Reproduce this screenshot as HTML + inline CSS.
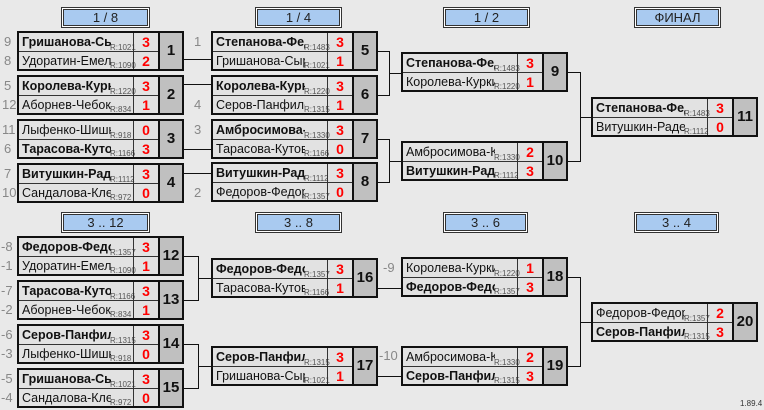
<!DOCTYPE html>
<html><head><meta charset="utf-8">
<style>
body{margin:0;width:764px;height:410px;background:#e9e9e9;position:relative;overflow:hidden;font-family:"Liberation Sans",sans-serif;}
.m{position:absolute;width:163px;height:36px;border:2px solid #111;background:#e2e2e2}
.r{position:absolute;left:0;width:139px;height:18px;top:0}
.r+.r{top:18px;border-top:1px solid #333;height:17px}
.n{position:absolute;left:3px;top:1px;width:89px;overflow:hidden;white-space:nowrap;font-size:12.5px;color:#111;line-height:16px}
.b{font-weight:bold}
.r i{position:absolute;left:91px;bottom:-1px;font-size:8px;color:#555;font-style:normal;line-height:9px}
.r s{position:absolute;left:114px;top:0;width:24px;height:100%;border-left:1px solid #333;color:#f00;text-decoration:none;text-align:center;font-size:14px;font-weight:bold;line-height:18px}
.k{position:absolute;left:139px;top:0;width:22px;height:36px;background:#c0c0c0;border-left:2px solid #111;text-align:center;font-weight:bold;font-size:15px;line-height:36px;color:#111}
.h{position:absolute;height:15px;border:1px solid #333;outline:1px solid #fff;box-shadow:0 0 0 2px #333;background:#a9caf0;font-size:13px;text-align:center;line-height:15px;color:#222}
.l{position:absolute;background:#111}
.sd{position:absolute;font-size:13px;color:#888;line-height:14px}
</style></head><body>
<div class="h" style="left:63px;top:9px;width:83px">1 / 8</div>
<div class="h" style="left:257px;top:9px;width:81px">1 / 4</div>
<div class="h" style="left:445px;top:9px;width:81px">1 / 2</div>
<div class="h" style="left:636px;top:9px;width:81px">ФИНАЛ</div>
<div class="h" style="left:63px;top:214px;width:83px">3 .. 12</div>
<div class="h" style="left:257px;top:214px;width:81px">3 .. 8</div>
<div class="h" style="left:445px;top:214px;width:79px">3 .. 6</div>
<div class="h" style="left:636px;top:214px;width:79px">3 .. 4</div>

<div class="sd" style="left:4px;top:35px">9</div><div class="sd" style="left:4px;top:54px">8</div>
<div class="sd" style="left:4px;top:79px">5</div><div class="sd" style="left:2px;top:98px">12</div>
<div class="sd" style="left:2px;top:123px">11</div><div class="sd" style="left:4px;top:142px">6</div>
<div class="sd" style="left:4px;top:167px">7</div><div class="sd" style="left:2px;top:186px">10</div>
<div class="sd" style="left:1px;top:240px">-8</div><div class="sd" style="left:1px;top:259px">-1</div>
<div class="sd" style="left:1px;top:284px">-7</div><div class="sd" style="left:1px;top:303px">-2</div>
<div class="sd" style="left:1px;top:328px">-6</div><div class="sd" style="left:1px;top:347px">-3</div>
<div class="sd" style="left:1px;top:372px">-5</div><div class="sd" style="left:1px;top:391px">-4</div>
<div class="sd" style="left:194px;top:35px">1</div><div class="sd" style="left:194px;top:98px">4</div>
<div class="sd" style="left:194px;top:123px">3</div><div class="sd" style="left:194px;top:186px">2</div>
<div class="sd" style="left:383px;top:261px">-9</div><div class="sd" style="left:379px;top:349px">-10</div>

<div class="l" style="left:184px;top:59px;width:27px;height:1px"></div>
<div class="l" style="left:184px;top:84px;width:27px;height:1px"></div>
<div class="l" style="left:184px;top:149px;width:27px;height:1px"></div>
<div class="l" style="left:184px;top:173px;width:27px;height:1px"></div>
<div class="l" style="left:374px;top:51px;width:16px;height:1px"></div>
<div class="l" style="left:374px;top:95px;width:16px;height:1px"></div>
<div class="l" style="left:389px;top:51px;width:1px;height:45px"></div>
<div class="l" style="left:389px;top:73px;width:12px;height:1px"></div>
<div class="l" style="left:374px;top:139px;width:16px;height:1px"></div>
<div class="l" style="left:374px;top:182px;width:16px;height:1px"></div>
<div class="l" style="left:389px;top:139px;width:1px;height:44px"></div>
<div class="l" style="left:389px;top:161px;width:12px;height:1px"></div>
<div class="l" style="left:567px;top:72px;width:14px;height:1px"></div>
<div class="l" style="left:567px;top:161px;width:14px;height:1px"></div>
<div class="l" style="left:580px;top:72px;width:1px;height:90px"></div>
<div class="l" style="left:580px;top:117px;width:12px;height:1px"></div>
<div class="l" style="left:184px;top:256px;width:14px;height:1px"></div>
<div class="l" style="left:184px;top:300px;width:14px;height:1px"></div>
<div class="l" style="left:198px;top:256px;width:1px;height:45px"></div>
<div class="l" style="left:198px;top:278px;width:13px;height:1px"></div>
<div class="l" style="left:184px;top:344px;width:14px;height:1px"></div>
<div class="l" style="left:184px;top:388px;width:14px;height:1px"></div>
<div class="l" style="left:198px;top:344px;width:1px;height:45px"></div>
<div class="l" style="left:198px;top:366px;width:13px;height:1px"></div>
<div class="l" style="left:374px;top:288px;width:27px;height:1px"></div>
<div class="l" style="left:374px;top:376px;width:27px;height:1px"></div>
<div class="l" style="left:567px;top:277px;width:14px;height:1px"></div>
<div class="l" style="left:567px;top:366px;width:14px;height:1px"></div>
<div class="l" style="left:580px;top:277px;width:1px;height:90px"></div>
<div class="l" style="left:580px;top:322px;width:12px;height:1px"></div>

<div class="m" style="left:17px;top:31px"><div class="r"><span class="n b">Гришанова-Сыромятникова</span><i>R:1021</i><s>3</s></div><div class="r"><span class="n">Удоратин-Емельянов</span><i>R:1090</i><s>2</s></div><div class="k">1</div></div>
<div class="m" style="left:17px;top:75px"><div class="r"><span class="n b">Королева-Куркина</span><i>R:1220</i><s>3</s></div><div class="r"><span class="n">Аборнев-Чебоксаров</span><i>R:834</i><s>1</s></div><div class="k">2</div></div>
<div class="m" style="left:17px;top:119px"><div class="r"><span class="n">Лыфенко-Шишкина</span><i>R:918</i><s>0</s></div><div class="r"><span class="n b">Тарасова-Кутова</span><i>R:1166</i><s>3</s></div><div class="k">3</div></div>
<div class="m" style="left:17px;top:163px"><div class="r"><span class="n b">Витушкин-Радеев</span><i>R:1112</i><s>3</s></div><div class="r"><span class="n">Сандалова-Кленова</span><i>R:972</i><s>0</s></div><div class="k">4</div></div>
<div class="m" style="left:211px;top:31px"><div class="r"><span class="n b">Степанова-Федорова</span><i>R:1483</i><s>3</s></div><div class="r"><span class="n">Гришанова-Сыромятникова</span><i>R:1021</i><s>1</s></div><div class="k">5</div></div>
<div class="m" style="left:211px;top:75px"><div class="r"><span class="n b">Королева-Куркина</span><i>R:1220</i><s>3</s></div><div class="r"><span class="n">Серов-Панфилов</span><i>R:1315</i><s>1</s></div><div class="k">6</div></div>
<div class="m" style="left:211px;top:119px"><div class="r"><span class="n b">Амбросимова-Кузина</span><i>R:1330</i><s>3</s></div><div class="r"><span class="n">Тарасова-Кутова</span><i>R:1166</i><s>0</s></div><div class="k">7</div></div>
<div class="m" style="left:211px;top:162px"><div class="r"><span class="n b">Витушкин-Радеев</span><i>R:1112</i><s>3</s></div><div class="r"><span class="n">Федоров-Федорова</span><i>R:1357</i><s>0</s></div><div class="k">8</div></div>
<div class="m" style="left:401px;top:52px"><div class="r"><span class="n b">Степанова-Федорова</span><i>R:1483</i><s>3</s></div><div class="r"><span class="n">Королева-Куркина</span><i>R:1220</i><s>1</s></div><div class="k">9</div></div>
<div class="m" style="left:401px;top:141px"><div class="r"><span class="n">Амбросимова-Кузина</span><i>R:1330</i><s>2</s></div><div class="r"><span class="n b">Витушкин-Радеев</span><i>R:1112</i><s>3</s></div><div class="k">10</div></div>
<div class="m" style="left:591px;top:97px"><div class="r"><span class="n b">Степанова-Федорова</span><i>R:1483</i><s>3</s></div><div class="r"><span class="n">Витушкин-Радеев</span><i>R:1112</i><s>0</s></div><div class="k">11</div></div>

<div class="m" style="left:17px;top:236px"><div class="r"><span class="n b">Федоров-Федорова</span><i>R:1357</i><s>3</s></div><div class="r"><span class="n">Удоратин-Емельянов</span><i>R:1090</i><s>1</s></div><div class="k">12</div></div>
<div class="m" style="left:17px;top:280px"><div class="r"><span class="n b">Тарасова-Кутова</span><i>R:1166</i><s>3</s></div><div class="r"><span class="n">Аборнев-Чебоксаров</span><i>R:834</i><s>1</s></div><div class="k">13</div></div>
<div class="m" style="left:17px;top:324px"><div class="r"><span class="n b">Серов-Панфилов</span><i>R:1315</i><s>3</s></div><div class="r"><span class="n">Лыфенко-Шишкина</span><i>R:918</i><s>0</s></div><div class="k">14</div></div>
<div class="m" style="left:17px;top:368px"><div class="r"><span class="n b">Гришанова-Сыромятникова</span><i>R:1021</i><s>3</s></div><div class="r"><span class="n">Сандалова-Кленова</span><i>R:972</i><s>0</s></div><div class="k">15</div></div>
<div class="m" style="left:211px;top:258px"><div class="r"><span class="n b">Федоров-Федорова</span><i>R:1357</i><s>3</s></div><div class="r"><span class="n">Тарасова-Кутова</span><i>R:1166</i><s>1</s></div><div class="k">16</div></div>
<div class="m" style="left:211px;top:346px"><div class="r"><span class="n b">Серов-Панфилов</span><i>R:1315</i><s>3</s></div><div class="r"><span class="n">Гришанова-Сыромятникова</span><i>R:1021</i><s>1</s></div><div class="k">17</div></div>
<div class="m" style="left:401px;top:257px"><div class="r"><span class="n">Королева-Куркина</span><i>R:1220</i><s>1</s></div><div class="r"><span class="n b">Федоров-Федорова</span><i>R:1357</i><s>3</s></div><div class="k">18</div></div>
<div class="m" style="left:401px;top:346px"><div class="r"><span class="n">Амбросимова-Кузина</span><i>R:1330</i><s>2</s></div><div class="r"><span class="n b">Серов-Панфилов</span><i>R:1315</i><s>3</s></div><div class="k">19</div></div>
<div class="m" style="left:591px;top:302px"><div class="r"><span class="n">Федоров-Федорова</span><i>R:1357</i><s>2</s></div><div class="r"><span class="n b">Серов-Панфилов</span><i>R:1315</i><s>3</s></div><div class="k">20</div></div>

<div style="position:absolute;left:740px;top:399px;font-size:8px;color:#333">1.89.4</div>
</body></html>
